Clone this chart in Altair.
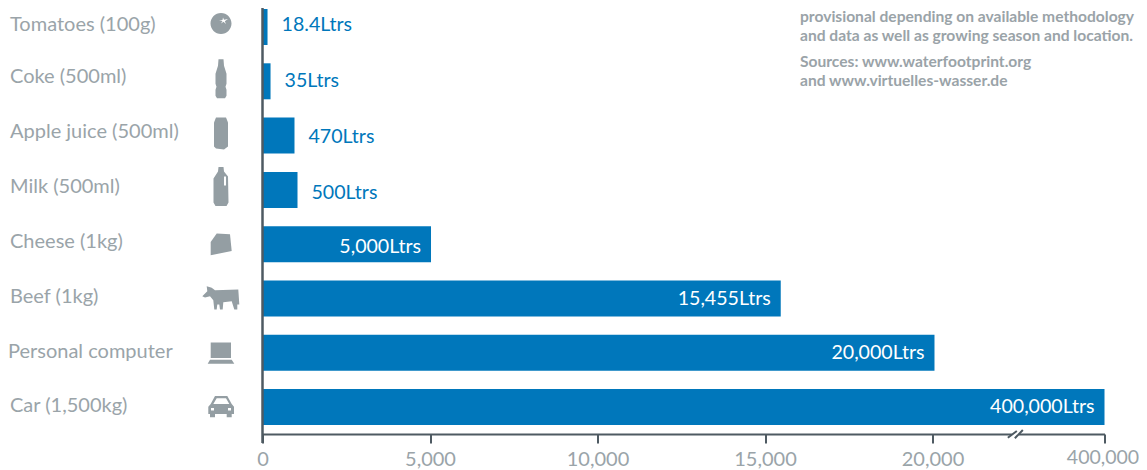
import altair as alt
import pandas as pd

items = ["Tomatoes (100g)", "Coke (500ml)", "Apple juice (500ml)", "Milk (500ml)",
         "Cheese (1kg)", "Beef (1kg)", "Personal computer", "Car (1,500kg)"]
bar_lengths = [150, 240, 955, 1045, 5030, 15470, 24400, 400000]
value_labels = ["18.4Ltrs", "35Ltrs", "470Ltrs", "500Ltrs", "5,000Ltrs",
                "15,455Ltrs", "20,000Ltrs", "400,000Ltrs"]
inside = [False, False, False, False, True, True, True, True]
tick_values = [0, 5000, 10000, 15000, 20000, 400000]
note_lines = ["All water use figures are approximate and",
              "provisional depending on available methodology",
              "and data as well as growing season and location.",
              "Sources: www.waterfootprint.org",
              "and www.virtuelles-wasser.de"]

# layout helpers (not data)
name_dy = [-2, -4, -4, -3, -2, -1, -1, -1]
name_x = [-252.5, -252.5, -252.5, -252.5, -252.5, -252.5, -254.5, -252.5]
value_dy = [-2, 0, 1, 3, 3, 1, 0, 0]
icon_dy = [-3.5, -2.5, -2, -3.5, 0, -1, 0.5, -0.5]
note_y = [-10, 8.5, 27.5, 53.5, 72.5]
icons = [
    "M-10.5,0A10.5,10.5,0,1,1,10.5,0A10.5,10.5,0,1,1,-10.5,0Z"
    "M-2,-3L1.5,-2.5L0,0L2.5,-1.8L5,0.5L3.8,-2.2L7,-4.5L3,-3.8L2,-6L1.5,-3.6Z",
    "M-2.5,-19.5L2.5,-19.5L3,-13L5.5,-5L5.5,5L4.5,8L5.5,11L5.5,17L4,19.5L-4,19.5"
    "L-5.5,17L-5.5,11L-4.5,8L-5.5,5L-5.5,-5L-3,-13Z",
    "M-5,-16L5,-16L7,-11L7,13L3,16L-5,15L-7,13L-7,-11Z",
    "M-2.5,-19.5L2.5,-19.5L3,-15L7,-10L7.5,16L5.5,19.5L-5.5,19.5L-7.5,16L-7.5,-8L-3,-15Z"
    "M3,-10L3,-1L5,-1L5,-10Z",
    "M-10.3,-2.3L-4.3,-10.7L9,-10L10.7,6.7L-10.3,11Z",
    "M-18.7,-1.3L-13.7,-6.3L-14.3,-11.3L-9.3,-9.7L-6,-7.3L17.3,-8L18.3,7L16.3,7L16.3,12L13.3,12"
    "L10.7,3.7L2.3,4.7L1.7,12L-1,12L-1.7,7L-3.7,7L-4.3,12L-6.7,12L-7.7,2.7L-11,-1.3L-16,0Z",
    "M-10.3,-10.8L10,-10.8L10,4.8L-10.3,4.8Z"
    "M-11,6.5L10.7,6.5L13.3,10.5L-13.3,10.5Z",
    "M-6,-10.5L6.3,-10.5L10.7,-2.5L13,0.2L13,7.5L10.7,7.5L10.7,10.8L5.7,10.8L5.7,7.5L-6,7.5L-6,10.8"
    "L-11,10.8L-11,7.5L-12.7,7.5L-12.7,0.2L-10.3,-2.5Z"
    "M-4.3,-8.2L-7.7,-2.5L8.3,-2.5L5,-8.2Z"
    "M-10,1.5L-10,4L-7,4L-7,1.5ZM7,1.5L7,4L10,4L10,1.5Z",
]

BLUE = "#0077bb"
GREY = "#9aa4a9"
DARK = "#4e5a62"
FONT = "Lato"

df = pd.DataFrame({"item": items, "length": bar_lengths, "label": value_labels, "inside": inside})

x_scale = alt.Scale(domain=[0, 20000, 400000], range=[0, 670, 842], nice=False)
x_enc = alt.X("length:Q", scale=x_scale,
              axis=alt.Axis(values=tick_values,
                            labelExpr="datum.value > 20000 ? '' : format(datum.value, ',')",
                            title=None, grid=False,
                            domainColor=DARK, domainWidth=2, tickColor=DARK, tickWidth=2,
                            tickSize=9, labelFont=FONT, labelFontSize=20,
                            labelColor=GREY, labelPadding=6, labelFlush=False, labelOverlap=False))
y_enc = alt.Y("item:N", sort=items, axis=None,
              scale=alt.Scale(domain=items, range=[-8.14, 426.2], paddingInner=0.337, paddingOuter=0.1685))

layers = [alt.Chart(df).mark_bar(color=BLUE).encode(x=x_enc, y=y_enc)]

for i in range(len(items)):
    row = alt.Chart(df.iloc[[i]])
    layers.append(row.mark_text(font=FONT, fontSize=20, color=GREY, align="left",
                                baseline="middle", dy=name_dy[i]).encode(
        x=alt.value(name_x[i]), y=y_enc, text="item:N"))
    layers.append(row.mark_point(shape=icons[i], size=4, filled=True, opacity=1, color="#949ea3",
                                 strokeWidth=0, yOffset=icon_dy[i]).encode(x=alt.value(-41.5), y=y_enc))
    if inside[i]:
        mk = row.mark_text(font=FONT, fontSize=19.6, color="#ffffff", align="right",
                           baseline="middle", dx=-10, dy=value_dy[i])
    else:
        mk = row.mark_text(font=FONT, fontSize=19.6, color=BLUE, align="left",
                           baseline="middle", dx=14, dy=value_dy[i])
    layers.append(mk.encode(x=x_enc, y=y_enc, text="label:N"))

# last tick label, nudged so that it stays inside the page
last_tick = pd.DataFrame({"length": [tick_values[-1]], "t": [format(tick_values[-1], ",")]})
layers.append(alt.Chart(last_tick).mark_text(font=FONT, fontSize=19.5, color=GREY, align="center",
                                             baseline="middle", dx=-1.5).encode(
    x=x_enc, y=alt.value(450), text="t:N"))

# vertical axis line
axis_df = pd.DataFrame({"a": [0]})
layers.append(alt.Chart(axis_df).mark_rule(color=DARK, strokeWidth=2.5).encode(
    x=alt.value(0), y=alt.value(-2), y2=alt.value(435)))

# axis break
brk = pd.DataFrame({"length": [203000]})
layers.append(alt.Chart(brk).mark_point(shape="M-3.5,-2L3.5,-2L3.5,2L-3.5,2Z", size=4, filled=True,
                                        opacity=1, color="#ffffff", strokeWidth=0).encode(
    x=x_enc, y=alt.value(426)))
layers.append(alt.Chart(brk).mark_point(shape="M-7.5,3.8L1.5,-3M-0.5,4.3L7.5,-4", size=4, filled=False,
                                        opacity=1, color=DARK, strokeWidth=2).encode(
    x=x_enc, y=alt.value(426)))

# note
for line, yy in zip(note_lines, note_y):
    layers.append(alt.Chart(pd.DataFrame({"t": [line]})).mark_text(
        font=FONT, fontSize=15.6, fontWeight="bold", color="#9aa3a8", align="left", baseline="middle"
    ).encode(x=alt.value(537.5), y=alt.value(yy), text="t:N"))

chart = alt.layer(*layers).properties(
    width=842, height=426,
    padding={"left": 254.5, "top": 0, "right": 34.5, "bottom": 38},
    autosize=alt.AutoSizeParams(type="none"),
).configure_view(stroke=None)

chart.save("out.html", embed_options={"renderer": "svg", "actions": False})
